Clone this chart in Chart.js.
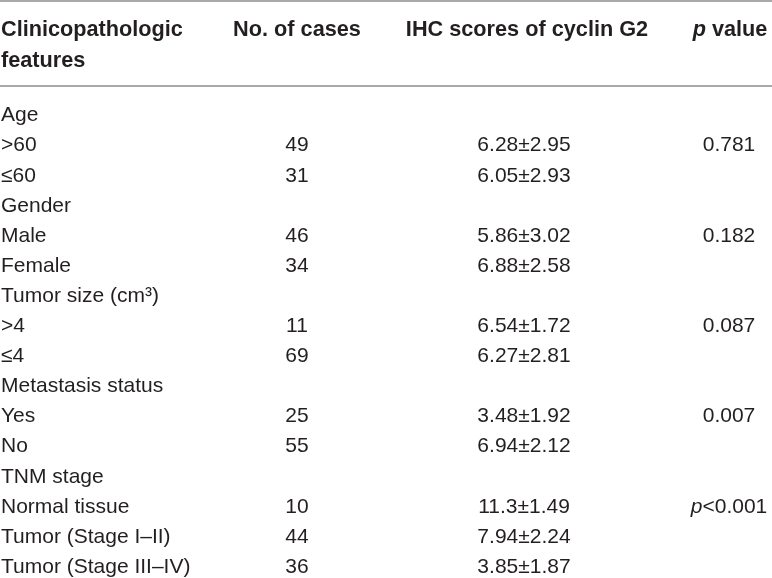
<!DOCTYPE html>
<html><head><meta charset="utf-8">
<script src="https://cdn.jsdelivr.net/npm/chart.js@4.4.1/dist/chart.umd.min.js"></script>
<style>html,body{margin:0;padding:0;background:#fff;overflow:hidden}#wrap{width:772px;height:578px}</style>
</head><body><div id="wrap"><canvas id="c" width="772" height="578"></canvas></div>
<script>
// ---- data ----
const headers = ['Clinicopathologic\nfeatures', 'No. of cases', 'IHC scores of cyclin G2', '_p_ value'];
const features = ['Age', '>60', '≤60', 'Gender', 'Male', 'Female', 'Tumor size (cm³)', '>4', '≤4',
  'Metastasis status', 'Yes', 'No', 'TNM stage', 'Normal tissue', 'Tumor (Stage I–II)', 'Tumor (Stage III–IV)'];
const cases = [null, 49, 31, null, 46, 34, null, 11, 69, null, 25, 55, null, 10, 44, 36];
const scores = ['', '6.28±2.95', '6.05±2.93', '', '5.86±3.02', '6.88±2.58', '', '6.54±1.72', '6.27±2.81',
  '', '3.48±1.92', '6.94±2.12', '', '11.3±1.49', '7.94±2.24', '3.85±1.87'];
const pValues = ['', '0.781', '', '', '0.182', '', '', '0.087', '', '', '0.007', '', '', '_p_<0.001', '', ''];

// ---- layout ----
const W = 772, H = 578;
const PITCH = 30.1, ROW0 = 121.3;
const Y_MIN = -ROW0 / PITCH, Y_MAX = Y_MIN + H / PITCH;
const rowAt = px => Y_MIN + px / PITCH;
const HEADER_BASE = [36, 67];
const RULES = [1, 86];
const colX = [1, 297, 524, 729];
const headX = [1, 297, 527, 730];
const colAlign = ['left', 'center', 'center', 'center'];
const FF = '"Liberation Sans", Arial, Helvetica, sans-serif';
const TEXT_COLOR = '#231f20';
const RULE_COLOR = '#8c8c8c';

const columns = [features, cases.map(v => v == null ? '' : String(v)), scores, pValues];

const datasets = [];
columns.forEach((col, c) => {
  const pts = [], texts = [];
  col.forEach((t, i) => { if (t) { pts.push({x: colX[c], y: i}); texts.push(t); } });
  datasets.push({type: 'scatter', data: pts, texts, align: colAlign[c], bold: false, pointRadius: 0, showLine: false});
});
headers.forEach((h, c) => {
  const pts = [], texts = [];
  h.split('\n').forEach((line, k) => { pts.push({x: headX[c], y: rowAt(HEADER_BASE[k])}); texts.push(line); });
  datasets.push({type: 'scatter', data: pts, texts, align: colAlign[c], bold: true, pointRadius: 0, showLine: false});
});
RULES.forEach(px => {
  datasets.push({type: 'scatter', showLine: true, data: [{x: 0, y: rowAt(px)}, {x: W, y: rowAt(px)}],
    borderColor: RULE_COLOR, borderWidth: 1.5, pointRadius: 0, clip: false});
});

function drawRich(ctx, str, x, y, align, bold) {
  const parts = str.split('_');
  const size = bold ? 21.7 : 21;
  const fontFor = k => (k % 2 ? 'italic ' : '') + (bold ? 'bold ' : '') + size + 'px ' + FF;
  let total = 0;
  parts.forEach((p, k) => { ctx.font = fontFor(k); total += ctx.measureText(p).width; });
  let cx = align === 'left' ? x : x - total / 2;
  ctx.textAlign = 'left';
  ctx.textBaseline = 'alphabetic';
  ctx.fillStyle = TEXT_COLOR;
  parts.forEach((p, k) => { ctx.font = fontFor(k); ctx.fillText(p, cx, y); cx += ctx.measureText(p).width; });
}

const cellText = {
  id: 'cellText',
  afterDatasetsDraw(chart) {
    const ctx = chart.ctx;
    ctx.save();
    chart.data.datasets.forEach((ds, i) => {
      if (!ds.texts) return;
      const meta = chart.getDatasetMeta(i);
      meta.data.forEach((el, j) => drawRich(ctx, ds.texts[j], el.x, el.y, ds.align, ds.bold));
    });
    ctx.restore();
  }
};

new Chart(document.getElementById('c'), {
  type: 'scatter',
  data: {datasets},
  options: {
    responsive: false, animation: false, devicePixelRatio: 1,
    layout: {padding: 0},
    plugins: {legend: {display: false}, tooltip: {enabled: false}},
    scales: {
      x: {type: 'linear', min: 0, max: W, display: false},
      y: {type: 'linear', min: Y_MIN, max: Y_MAX, reverse: true, display: false}
    }
  },
  plugins: [cellText]
});
</script></body></html>
